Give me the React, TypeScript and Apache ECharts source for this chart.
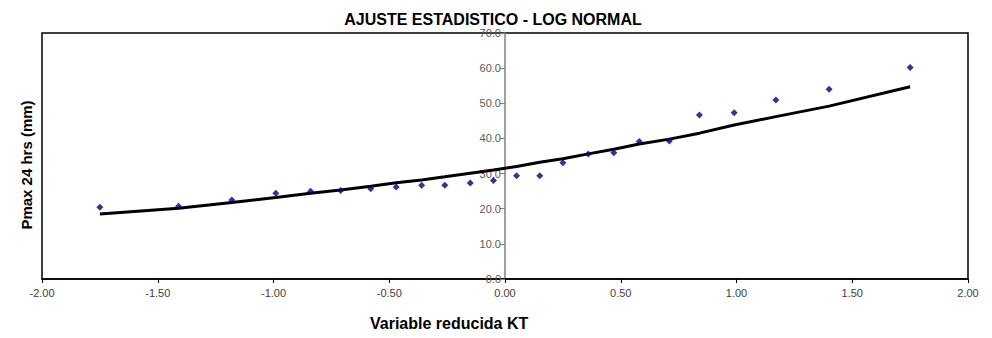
import React, { useEffect, useRef } from "react";
import * as echarts from "echarts";

const kt = [-1.75, -1.41, -1.18, -0.99, -0.84, -0.71, -0.58, -0.47, -0.36, -0.26, -0.15, -0.05, 0.05, 0.15, 0.25, 0.36, 0.47, 0.58, 0.71, 0.84, 0.99, 1.17, 1.4, 1.75];
const observed = [20.4, 20.7, 22.5, 24.4, 25.0, 25.2, 25.7, 26.2, 26.7, 26.7, 27.3, 28.0, 29.4, 29.4, 33.1, 35.6, 35.9, 39.1, 39.3, 46.7, 47.3, 50.9, 54.0, 60.2];
const fitted = [18.5, 20.1, 21.8, 23.2, 24.4, 25.3, 26.4, 27.4, 28.2, 29.1, 30.1, 31.0, 32.0, 33.2, 34.2, 35.6, 36.9, 38.4, 39.8, 41.5, 43.8, 46.2, 49.2, 54.7];

const titleText = "AJUSTE ESTADISTICO - LOG NORMAL";
const xName = "Variable reducida KT";
const yName = "Pmax 24 hrs (mm)";

export default function App() {
  const ref = useRef<HTMLDivElement>(null);
  useEffect(() => {
    if (!ref.current) return;
    const chart = echarts.init(ref.current, null, { renderer: "svg" });
    const font = "Liberation Sans, Arial, sans-serif";
    chart.setOption({
      animation: false,
      backgroundColor: "#fff",
      title: {
        text: titleText,
        left: 488,
        top: 6,
        textAlign: "center",
        textStyle: { fontFamily: font, fontSize: 16, fontWeight: "bold", color: "#000" },
      },
      grid: {
        left: 42,
        right: 24,
        top: 33,
        bottom: 59,
        containLabel: false,
        outerBoundsMode: "none",
        show: true,
        borderColor: "#000",
        borderWidth: 1.5,
        backgroundColor: "#fff",
      },
      xAxis: {
        type: "value",
        min: -2,
        max: 2,
        interval: 0.5,
        axisLine: { onZero: false, lineStyle: { color: "#000", width: 1.5 } },
        axisTick: { show: true, length: 4, lineStyle: { color: "#000" } },
        axisLabel: {
          fontFamily: "Liberation Sans Narrow, Arial Narrow, Liberation Sans, sans-serif",
          fontSize: 11,
          color: "#404040",
          margin: 8,
          formatter: (v: number) => v.toFixed(2),
        },
        splitLine: { show: false },
      },
      yAxis: {
        type: "value",
        min: 0,
        max: 70,
        interval: 10,
        position: "left",
        offset: -463,
        axisLine: { show: true, onZero: false, lineStyle: { color: "#808080", width: 1.5 } },
        axisTick: { show: true, length: 5, lineStyle: { color: "#808080" } },
        axisLabel: {
          fontFamily: "Liberation Sans, Arial, sans-serif",
          fontSize: 11,
          color: "#595959",
          margin: 4,
          formatter: (v: number) => v.toFixed(1),
        },
        splitLine: { show: false },
      },
      graphic: [
        {
          type: "text",
          left: 458 - 88,
          top: 315,
          style: {
            text: xName,
            fontFamily: font,
            fontSize: 16,
            fontWeight: "bold",
            fill: "#000",
          },
        },
        {
          type: "text",
          x: 26,
          y: 165,
          rotation: Math.PI / 2,
          style: {
            text: yName,
            fontFamily: font,
            fontSize: 15,
            fontWeight: "bold",
            fill: "#000",
            align: "center",
            verticalAlign: "middle",
          },
        },
      ],
      series: [
        {
          type: "line",
          data: kt.map((x, i) => [x, fitted[i]]),
          showSymbol: false,
          symbol: "none",
          lineStyle: { color: "#000", width: 3 },
          z: 2,
        },
        {
          type: "scatter",
          data: kt.map((x, i) => [x, observed[i]]),
          symbol: "diamond",
          symbolSize: 7,
          itemStyle: { color: "#000080" },
          z: 3,
        },
      ],
    });
    return () => chart.dispose();
  }, []);
  return <div ref={ref} style={{ position: "fixed", left: 0, top: 0, width: 992, height: 338 }} />;
}
